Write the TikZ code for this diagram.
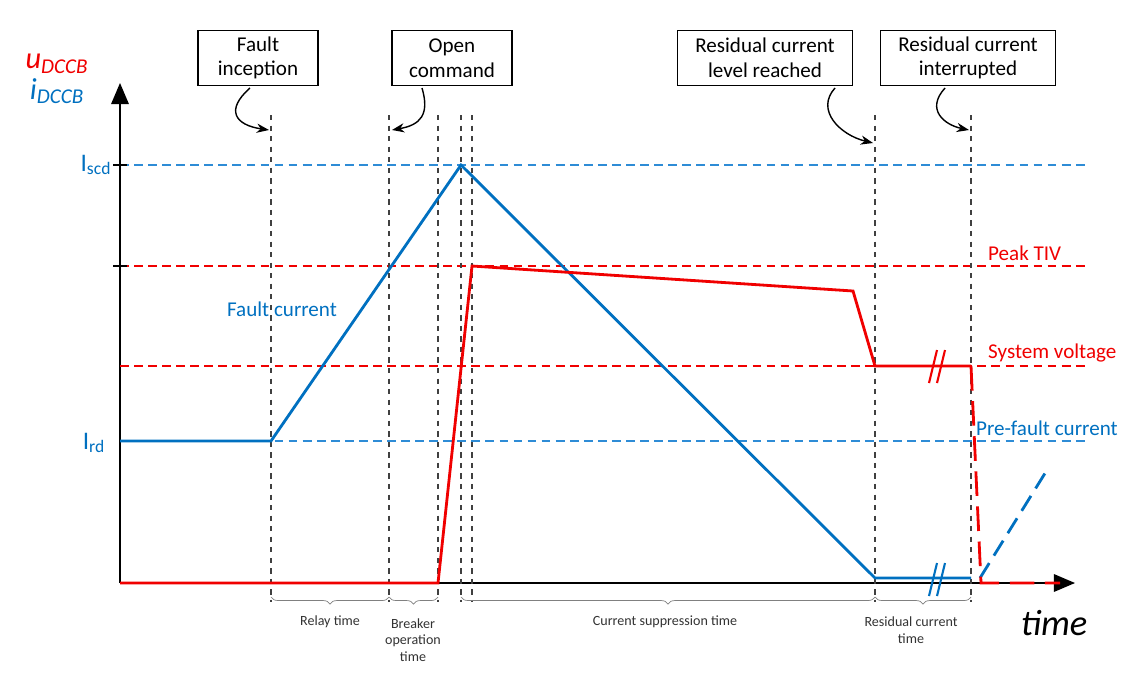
\documentclass[tikz,border=0pt]{standalone}
\usepackage{fontspec}
\setmainfont{Carlito}
\usetikzlibrary{arrows.meta,decorations.pathreplacing}
\definecolor{cblue}{RGB}{0,112,192}
\definecolor{lblue}{RGB}{46,140,214}
\definecolor{cred}{RGB}{240,0,0}
\tikzset{
	event/.style={draw, thick, fill=white, align=center, font=\large, minimum width=3.5cm, minimum height=1.1cm, inner sep=2pt},
	vline/.style={black!75, dashed, thick},
	hblue/.style={lblue, dash pattern=on 5pt off 3pt, semithick},
	hred/.style={cred, dash pattern=on 5pt off 3pt, semithick},
	brace/.style={gray, decorate, decoration={brace, mirror, amplitude=4pt}},
	blabel/.style={font=\footnotesize, align=center, text=black!80},
}

\begin{document}
\begin{tikzpicture}[x=0.02cm, y=-0.02cm]
	\useasboundingbox (0,0) rectangle (1145,677);

	%% axes
	\coordinate (origin) at (120,583);
	\coordinate (xend) at (1075,583);
	\coordinate (yend) at (120,83);
	\draw[-{Triangle[length=12pt,width=10pt]}, thick] (origin) -- (xend);
	\draw[-{Triangle[length=12pt,width=10pt]}, thick] (origin) -- (yend);
	\node[text=cred, font=\LARGE\itshape, inner sep=1pt](u_label) at (57,64){u\textsubscript{\large DCCB}};
	\node[text=cblue, font=\LARGE\itshape, inner sep=1pt](i_label) at (57,91){i\textsubscript{\large DCCB}};
	\node[font=\itshape\huge](time_label) at (1054,623){time};

	%% levels
	\draw[hblue] (120,165) -- (1085,165);
	\draw[hred] (120,266) -- (1085,266);
	\draw[hred] (120,366) -- (1085,366);
	\draw[hblue] (120,441) -- (1085,441);
	\draw[thick] (113,165) -- (127,165);
	\draw[thick] (113,266) -- (127,266);
	\node[text=cblue, font=\Large](I_scd) at (96,165){I\textsubscript{scd}};
	\node[text=cblue, font=\Large](I_rd) at (94,443){I\textsubscript{rd}};
	\node[text=cred, font=\large, anchor=west](peak_tiv) at (982,253){Peak TIV};
	\node[text=cred, font=\large, anchor=west](sys_volt) at (982,353){System voltage};
	\node[text=cblue, font=\large, anchor=west](pre_fault) at (970,428){Pre-fault current};
	\node[text=cblue, font=\large](fault_current) at (282,309){Fault current};

	%% time instants
	\foreach \t/\n in {271/inception, 389/open, 438/breaker, 461/peak, 472/tiv, 875/residual, 971/interrupted}{
		\coordinate (top_\n) at (\t,115);
		\coordinate (bot_\n) at (\t,602);
		\draw[vline] (top_\n) -- (bot_\n);
	}

	%% current
	\draw[cblue, ultra thick] (120,441) -- (271,441) -- (461,165) -- (875,578) -- (971,578);
	\draw[cblue, ultra thick, dash pattern=on 10pt off 5pt] (980,578) -- (1047,470);
	\draw[cblue, very thick] (929,596) -- (937,563) (937,596) -- (945,563);

	%% voltage
	\draw[cred, ultra thick] (120,583) -- (438,583) -- (472,266) -- (853,291) -- (875,366) -- (971,366);
	\draw[cred, ultra thick, dash pattern=on 14pt off 6pt] (971,366) -- (981,583) -- (1060,583);
	\draw[cred, very thick] (929,383) -- (937,350) (937,383) -- (945,350);

	%% events
	\node[event, minimum width=2.4cm](fault_inception) at (258,58){Fault\\inception};
	\node[event, minimum width=2.4cm](open_command) at (452,58){Open\\command};
	\node[event](level_reached) at (765,58){Residual current\\level reached};
	\node[event](interrupted) at (968,58){Residual current\\interrupted};

	\draw[-{Stealth[length=7pt]}, thick] (250,88) .. controls (225,110) and (235,125) .. (269,130);
	\draw[-{Stealth[length=7pt]}, thick] (422,88) .. controls (430,115) and (420,125) .. (392,130);
	\draw[-{Stealth[length=7pt]}, thick] (835,88) .. controls (815,110) and (840,135) .. (873,143);
	\draw[-{Stealth[length=7pt]}, thick] (945,88) .. controls (925,110) and (945,125) .. (969,130);

	%% durations
	\draw[brace] (271,597) -- (389,597);
	\draw[brace] (389,597) -- (438,597);
	\draw[brace] (461,597) -- (875,597);
	\draw[brace] (875,597) -- (971,597);
	\node[blabel](relay) at (330,622){Relay time};
	\node[blabel](operation) at (413,640){Breaker\\operation\\time};
	\node[blabel](suppression) at (665,622){Current suppression time};
	\node[blabel](residual_time) at (911,630){Residual current\\time};
\end{tikzpicture}
\end{document}
